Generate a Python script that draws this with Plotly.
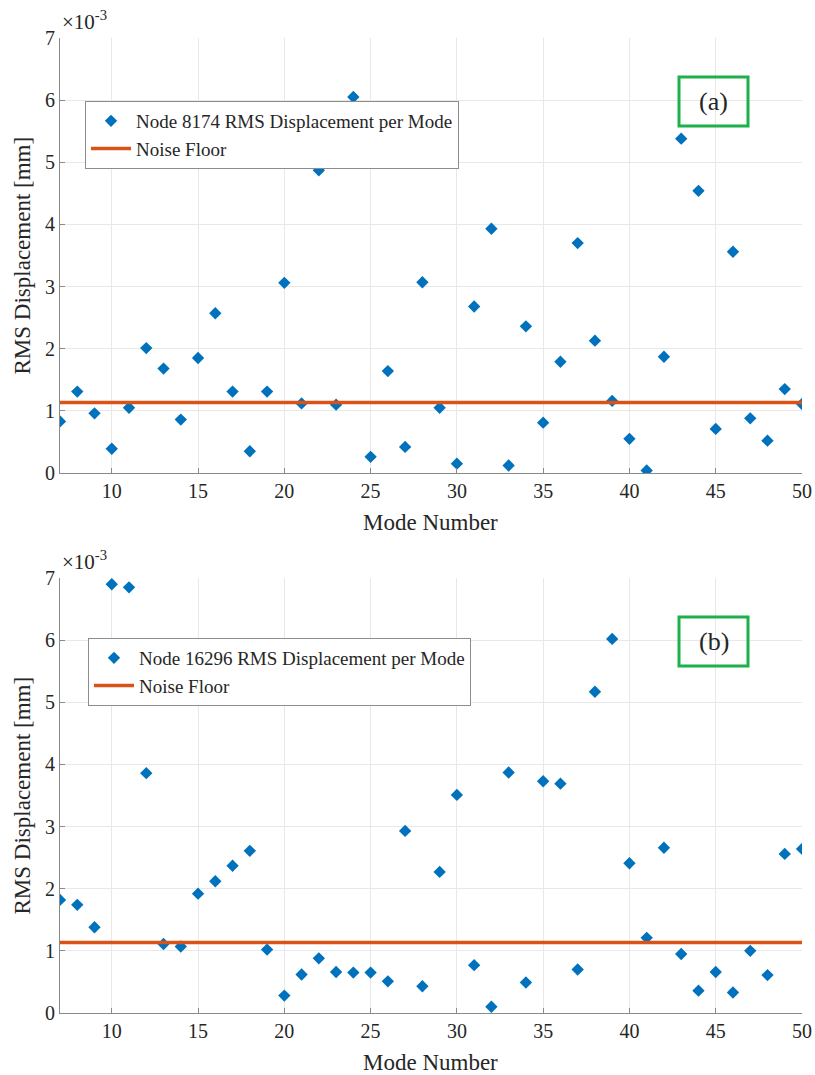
import plotly.graph_objects as go

# Mode numbers shared by both nodes
modes = list(range(7, 51))

# RMS displacement per mode, in units of 1e-3 mm
node_8174_rms = [0.83, 1.31, 0.96, 0.39, 1.05, 2.01, 1.68, 0.86, 1.85, 2.57,
                 1.31, 0.35, 1.31, 3.06, 1.12, 4.87, 1.10, 6.05, 0.26, 1.64,
                 0.42, 3.07, 1.05, 0.15, 2.68, 3.93, 0.12, 2.36, 0.81, 1.79,
                 3.70, 2.13, 1.16, 0.55, 0.04, 1.87, 5.38, 4.54, 0.71, 3.56,
                 0.88, 0.52, 1.35, 1.11]
node_16296_rms = [1.82, 1.74, 1.38, 6.90, 6.85, 3.86, 1.11, 1.07, 1.92, 2.12,
                  2.37, 2.61, 1.02, 0.28, 0.62, 0.88, 0.66, 0.65, 0.65, 0.51,
                  2.93, 0.43, 2.27, 3.51, 0.77, 0.10, 3.87, 0.49, 3.73, 3.69,
                  0.70, 5.17, 6.02, 2.41, 1.21, 2.66, 0.95, 0.36, 0.66, 0.33,
                  1.00, 0.61, 2.56, 2.64]
noise_floor = 1.135

panels = [
    {"node": "8174", "values": node_8174_rms, "tag": "(a)"},
    {"node": "16296", "values": node_16296_rms, "tag": "(b)"},
]

W, H = 815, 1075
FONT = "Liberation Serif, DejaVu Serif, serif"
TXT = "#262626"
BLUE = "#0072BD"
ORANGE = "#D95319"

# panel plot areas in pixels: (top, bottom)
areas = [(38, 473), (578, 1013)]
x_left, x_right = 60, 802
# legend top-left corners in pixels
legend_pos = [(85, 101), (88, 638)]

fig = go.Figure()
annotations = []
shapes = []

for i, (p, (top, bot)) in enumerate(zip(panels, areas)):
    n = "" if i == 0 else str(i + 1)
    xa, ya = "x" + n, "y" + n
    legend_name = "legend" if i == 0 else "legend2"

    fig.add_trace(go.Scatter(
        x=modes, y=p["values"], mode="markers",
        name=f"Node {p['node']} RMS Displacement per Mode",
        marker=dict(symbol="diamond", size=9.5, color=BLUE, line=dict(width=0)),
        xaxis=xa, yaxis=ya, legend=legend_name,
    ))
    fig.add_trace(go.Scatter(
        x=[modes[0], modes[-1]], y=[noise_floor, noise_floor], mode="lines",
        name="Noise Floor", line=dict(color=ORANGE, width=3.5),
        xaxis=xa, yaxis=ya, legend=legend_name,
    ))

    ydom = [1 - bot / H, 1 - top / H]
    axis_common = dict(
        showgrid=True, gridcolor="#e8e8e8", gridwidth=1, zeroline=False,
        showline=True, linecolor="#8a8a8a", linewidth=1,
        ticks="inside", ticklen=5, tickcolor="#8a8a8a",
        tickfont=dict(family=FONT, size=20, color=TXT),
        automargin=False,
    )
    fig.update_layout(**{
        ("xaxis" + n): dict(
            domain=[x_left / W, x_right / W], anchor=ya, range=[7, 50],
            tickvals=[10, 15, 20, 25, 30, 35, 40, 45, 50], **axis_common),
        ("yaxis" + n): dict(
            domain=ydom, anchor=xa, range=[0, 7],
            tickvals=list(range(0, 8)), **axis_common),
    })

    # axis titles
    annotations.append(dict(
        text="Mode Number", xref="paper", yref="paper",
        x=(x_left + x_right) / 2 / W, y=1 - (bot + 49) / H,
        xanchor="center", yanchor="middle", showarrow=False,
        font=dict(family=FONT, size=23, color=TXT)))
    annotations.append(dict(
        text="RMS Displacement [mm]", xref="paper", yref="paper",
        x=22 / W, y=1 - (top + bot) / 2 / H, textangle=-90,
        xanchor="center", yanchor="middle", showarrow=False,
        font=dict(family=FONT, size=23, color=TXT)))
    # exponent multiplier above the y axis
    annotations.append(dict(
        text="×10<sup>-3</sup>", xref="paper", yref="paper",
        x=60 / W, y=1 - (top - 2) / H, xanchor="left", yanchor="bottom",
        showarrow=False, font=dict(family=FONT, size=21, color=TXT)))
    # panel tag in a green box
    annotations.append(dict(
        text=p["tag"], xref="paper", yref="paper",
        x=(679 + 748) / 2 / W, y=1 - (top + 63) / H,
        xanchor="center", yanchor="middle", showarrow=False,
        font=dict(family=FONT, size=26, color=TXT)))
    shapes.append(dict(
        type="rect", xref="paper", yref="paper",
        x0=679 / W, x1=748 / W, y0=1 - (top + 39) / H, y1=1 - (top + 88) / H,
        line=dict(color="#1DB04B", width=3), fillcolor="rgba(0,0,0,0)"))

legend_style = dict(
    xanchor="left", yanchor="top", bgcolor="white",
    bordercolor="#8c8c8c", borderwidth=1,
    font=dict(family=FONT, size=19, color=TXT),
    tracegroupgap=0, itemwidth=40,
)

fig.update_layout(
    width=W, height=H,
    margin=dict(l=0, r=0, t=0, b=0),
    paper_bgcolor="white", plot_bgcolor="white",
    showlegend=True,
    legend=dict(x=legend_pos[0][0] / W, y=1 - legend_pos[0][1] / H, **legend_style),
    legend2=dict(x=legend_pos[1][0] / W, y=1 - legend_pos[1][1] / H, **legend_style),
    annotations=annotations,
    shapes=shapes,
)

fig.write_html("out.html")
